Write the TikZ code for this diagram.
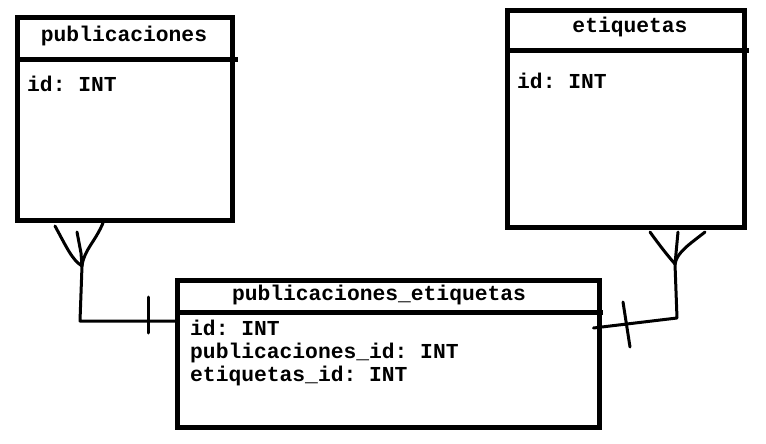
\documentclass[tikz,border=0pt]{standalone}
\usepackage{fontspec}
\setmonofont{Liberation Mono}
\usetikzlibrary{positioning, calc}

\tikzset{
  tabla/.style={draw, line width=5pt, inner sep=0pt, outer sep=0pt},
  campo/.style={font=\ttfamily\bfseries\fontsize{21.3}{23}\selectfont, inner sep=0pt, anchor=base west},
  titulo/.style={font=\ttfamily\bfseries\fontsize{21.3}{23}\selectfont, inner sep=0pt, anchor=base},
  conector/.style={line width=3pt, line cap=round, line join=round},
}

\begin{document}
\begin{tikzpicture}[x=1pt, y=-1pt]
    \useasboundingbox (0,0) rectangle (766,444);
    % tablas
    \node[tabla, minimum width=214.5, minimum height=203] (pub) at (124.75,119) {};
    \node[tabla, minimum width=237.5, minimum height=217] (etq) at (625.75,119) {};
    \node[tabla, minimum width=422.5, minimum height=147] (pe) at (388.25,354) {};
    \draw[line width=5pt] ($(pub.north west)+(0,42.5)$) -- ++(220.5,0);
    \draw[line width=5pt] ($(etq.north west)+(0,40)$) -- ++(242,0);
    \draw[line width=5pt] ($(pe.north west)+(0,32)$) -- ++(426,0);
    % textos
    \node[titulo] (pubtit) at (124,42) {publicaciones};
    \node[campo] (pubid) at (27,92) {id: INT};
    \node[titulo] (etqtit) at (630,32.5) {etiquetas};
    \node[campo] (etqid) at (517,88.5) {id: INT};
    \node[titulo] (petit) at (379,300) {publicaciones\_etiquetas};
    \node[campo] (peid) at (190,335) {id: INT};
    \node[campo] (pepub) at (190,358) {publicaciones\_id: INT};
    \node[campo] (peetq) at (190,381) {etiquetas\_id: INT};
    % conector publicaciones
    \coordinate (pubpie) at (82,266);
    \coordinate (pubcodo) at (80,321);
    \draw[conector] (55,226) .. controls (66,246) and (72,260) .. (pubpie);
    \draw[conector] (77,232) -- (81,253) -- (pubpie);
    \draw[conector] (103,223) .. controls (95,242) and (84,250) .. (pubpie);
    \draw[conector] (pubpie) -- (pubcodo) -- (pubcodo -| pe.west);
    \draw[conector] (148,297) -- (148,333);
    % conector etiquetas
    \coordinate (etqpie) at (675,264);
    \coordinate (etqcodo) at (677,318);
    \draw[conector] (650,232) .. controls (660,246) and (668,256) .. (etqpie);
    \draw[conector] (678,232) -- (etqpie);
    \draw[conector] (705,232) .. controls (690,244) and (677,252) .. (etqpie);
    \draw[conector] (etqpie) -- (etqcodo) -- ($(pe.north east)+(-6,47.5)$);
    \draw[conector] (623,302) -- (630,347);
\end{tikzpicture}
\end{document}
